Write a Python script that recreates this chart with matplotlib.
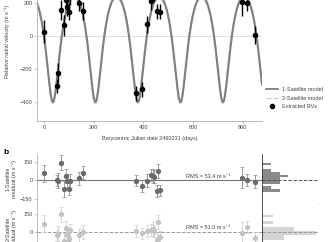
"""
RV curve of the host with 1- and 2-satellite Keplerian models,
plus residual panels and residual histograms.
"""

import matplotlib
matplotlib.use("Agg")
import matplotlib.pyplot as plt
import numpy as np
from matplotlib.lines import Line2D

plt.rcParams["font.family"] = ["Liberation Sans", "DejaVu Sans"]

# Extracted RVs (days since BJD 2460231)
days = [1, 51, 58, 70, 82, 88, 94, 99, 105, 140, 158,
        370, 393, 416, 429, 437, 444, 453, 457, 467,
        798, 818, 849]
rv = [26, -303, -222, 158, 65, 218, 178, 147, 240, 202, 152,
      -347, -323, 71, 210, 260, 262, 150, 300, 148,
      208, 198, 6]
rv_err = [70, 45, 60, 60, 65, 55, 55, 50, 55, 50, 55,
          45, 45, 50, 50, 55, 50, 45, 55, 45,
          85, 48, 53]
res_1sat = [56, 0, -5, 141, -70, 37, -8, -67, -8, 15, 62,
            -3, -46, -3, 42, 34, 29, -86, 75, -80,
            21, 2, -11]
res_2sat = [68, -25, -15, 143, -75, 34, -27, -54, 14, -27, 0,
            8, -11, 8, 16, 25, 8, -65, 79, -39,
            -6, 38, -51]

# Keplerian parameters: period, time of periastron, ecc, K, omega (deg), offset
model_1sat = dict(P=171.0, tp=36.0, e=0.25, K=320.0, w=180.0, gamma=0.0)
model_2sat = dict(P=171.0, tp=35.0, e=0.27, K=318.0, w=180.0, gamma=-3.0)

# residual histograms: bin low / high edges and counts
hist1_lo = [125, 67, 40, 24, -27, -67, -94]
hist1_hi = [141, 91, 67, 40, 24, -43, -67]
hist1_n = [1, 1, 2, 3, 2, 1, 2]
hist2_lo = [124, 65, 6, -27, -62]
hist2_hi = [140, 92, 38, 6, -27]
hist2_n = [1, 1, 3, 5, 2]

rms_1sat = 53.4
rms_2sat = 51.0


def kepler_rv(t, P, tp, e, K, w, gamma):
    M = 2 * np.pi * (t - tp) / P
    E = M.copy()
    for _ in range(60):
        E = E - (E - e * np.sin(E) - M) / (1 - e * np.cos(E))
    nu = 2 * np.arctan2(np.sqrt(1 + e) * np.sin(E / 2),
                        np.sqrt(1 - e) * np.cos(E / 2))
    wr = np.radians(w)
    return gamma + K * (np.cos(nu + wr) + e * np.cos(wr))


W, H = 330, 242
fig = plt.figure(figsize=(W / 100, H / 100), dpi=100)


def px_axes(x0, y0, x1, y1):
    return fig.add_axes([x0 / W, (H - y1) / H, (x1 - x0) / W, (y1 - y0) / H])


ax = px_axes(37, -20, 262, 121)
axm = px_axes(37, 154, 262, 204)
axb = px_axes(37, 204, 262, 254)
hm = px_axes(262, 154, 318, 204)
hb = px_axes(262, 204, 318, 254)

XLIM = (-28, 877)
spine_c = "#b0b0b0"
txt_c = "#444444"

for a in (ax, axm, axb):
    for s in ("top", "right"):
        a.spines[s].set_visible(False)
    for s in ("left", "bottom"):
        a.spines[s].set_color(spine_c)
        a.spines[s].set_linewidth(0.6)
    a.tick_params(length=2, width=0.5, pad=1.2, labelsize=4,
                  color=spine_c, labelcolor=txt_c)
    a.set_xlim(*XLIM)

# ---- top panel ----
t = np.linspace(XLIM[0], XLIM[1], 2000)
ax.axhline(0, color="#dddddd", lw=0.7, zorder=0)
ax.plot(t, kepler_rv(t, **model_2sat), "--", color="#cfcfcf", lw=1.3, zorder=1)
ax.plot(t, kepler_rv(t, **model_1sat), "-", color="#7f7f7f", lw=1.5, zorder=2)
ax.errorbar(days, rv, yerr=rv_err, fmt="o", color="black", ms=3.0,
            elinewidth=1.0, capsize=0, zorder=3)
ax.set_ylim(-515, 339)
ax.set_yticks([-400, -200, 0, 200])
ax.set_xticks([0, 200, 400, 600, 800])
ax.set_ylabel("Relative radial velocity (m s⁻¹)", fontsize=4, color=txt_c)
ax.yaxis.set_label_coords(-0.118, 0.567)
ax.set_xlabel("Barycentric Julian date 2460231 (days)", fontsize=4, color=txt_c)
ax.xaxis.set_label_coords(0.502, -0.105)

legend_elements = [
    Line2D([0], [0], color="#7f7f7f", lw=1.3, label="1-Satellite model"),
    Line2D([0], [0], color="#cfcfcf", lw=1.0, ls="--", label="2-Satellite model"),
    Line2D([0], [0], marker="o", color="w", markerfacecolor="black",
           markeredgecolor="black", markersize=3.0, label="Extracted RVs"),
]
fig.legend(handles=legend_elements, loc="upper left",
           bbox_to_anchor=(266 / W, (H - 87) / H), frameon=False, fontsize=4,
           handlelength=2.2, handletextpad=0.7, labelspacing=0.65,
           borderpad=0, borderaxespad=0, labelcolor=txt_c)

# ---- residual panels ----
axm.axhline(0, color="#777777", lw=0.8, zorder=0)
axm.errorbar(days, res_1sat, yerr=rv_err, fmt="o", color="#6b6b6b",
             ecolor="#8c8c8c", ms=2.8, elinewidth=0.6, capsize=1.2,
             capthick=0.5, zorder=3)
axm.set_ylim(-190, 211)
axm.set_yticks([-150, 0, 150])
axm.tick_params(axis="x", bottom=False, labelbottom=False)
axm.spines["bottom"].set_color("#cccccc")
axm.set_ylabel("1-Satellite\nresidual (m s⁻¹)", fontsize=4, color=txt_c,
               linespacing=1.2)
axm.yaxis.set_label_coords(-0.09, 0.5)
axm.text(748, 12, f"RMS = {rms_1sat:.1f} m s⁻¹", ha="right", va="bottom",
         fontsize=4, color=txt_c)

axb.axhline(0, color="#999999", lw=0.7, ls="--", zorder=0)
axb.errorbar(days, res_2sat, yerr=rv_err, fmt="o", color="#c4c4c4",
             ecolor="#cccccc", ms=2.8, elinewidth=0.6, capsize=1.2,
             capthick=0.5, zorder=3)
axb.set_ylim(-178, 227)
axb.set_yticks([0, 150])
axb.tick_params(axis="x", bottom=False, labelbottom=False)
axb.spines["bottom"].set_visible(False)
axb.set_ylabel("2-Satellite\nresidual (m s⁻¹)", fontsize=4, color=txt_c,
               linespacing=1.2)
axb.yaxis.set_label_coords(-0.09, 0.5)
axb.text(748, 16, f"RMS = {rms_2sat:.1f} m s⁻¹", ha="right", va="bottom",
         fontsize=4, color=txt_c)

# ---- histograms ----
for h, lo, hi, n, col, lcol, ylim, xmax in (
        (hm, hist1_lo, hist1_hi, hist1_n, "#8a8a8a", "#555555", (-190, 211), 6.4),
        (hb, hist2_lo, hist2_hi, hist2_n, "#d4d4d4", "#999999", (-178, 227), 5.2)):
    lo = np.array(lo, dtype=float)
    hi = np.array(hi, dtype=float)
    h.barh(lo, n, height=hi - lo, align="edge", color=col, lw=0)
    h.axhline(0, color=lcol, lw=0.7, ls="--")
    h.set_ylim(*ylim)
    h.set_xlim(0, xmax)
    h.set_xticks([])
    h.set_yticks([])
    for s in ("top", "right"):
        h.spines[s].set_visible(False)
    h.spines["left"].set_color("#333333")
    h.spines["left"].set_linewidth(0.6)
    h.spines["bottom"].set_color("#cccccc")
    h.spines["bottom"].set_linewidth(0.6)
hb.spines["bottom"].set_visible(False)

fig.text(3 / W, (H - 152) / H, "b", fontsize=6, fontweight="bold",
         ha="left", va="center")

fig.savefig("out.png", dpi=100)
